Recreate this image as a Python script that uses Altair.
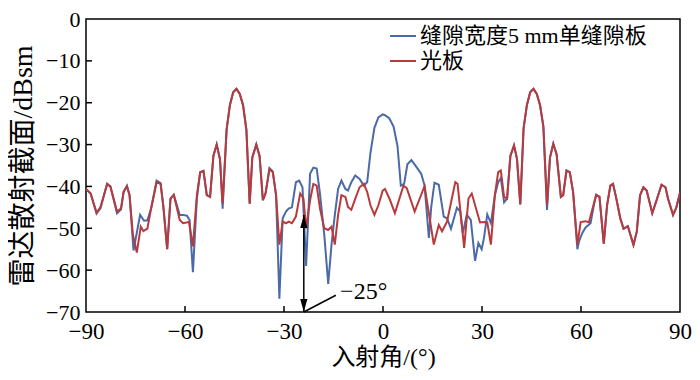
import altair as alt
import pandas as pd

# ---- data ----
series_names = ["缝隙宽度5 mm单缝隙板", "光板"]
series_colors = ["#4a6aa8", "#b83a3c"]

red_angle = [-90, -88.6, -86.8, -85.6, -83.6, -82.6, -80.6, -79.4, -78.6, -77.6, -76.8, -75.8, -74.6,
             -73.4, -72.6, -71.4, -70.1, -68.6, -67.4, -66.6, -65.4, -64.4, -63.4, -61.6, -60.6, -58.8,
             -57.6, -56.4, -55.4, -54.4, -53.4, -52.4, -51.4, -50.4, -49.4, -48.6, -47.4, -46.4, -45.4,
             -44.4, -43.4, -42.4, -41.4, -40.4, -39.6, -38.4, -37.4, -36.4, -35.6, -34.4, -33.4, -32.4,
             -31.4, -30.4, -29.4, -28.6, -27.6, -26.4, -25.1, -24.1, -23.3, -22.1, -21.1, -20.1, -19.1,
             -17.8, -16.6, -15.6, -14.6, -13.6, -12.6, -11.4, -10.6, -9.6, -8.4, -7.1, -5.8, -4.8, -3.8,
             -2.6, -1.4, -0.1, 0.6, 2.0, 3.6, 6.2, 7.2, 9.6, 12.6, 15.4, 16.9, 17.9, 19.4, 21.9, 22.6,
             24.6, 25.9, 26.9, 29.4, 30.6, 31.6, 32.7, 33.9, 34.9, 35.7, 36.7, 37.6, 38.6, 39.7, 40.6,
             41.6, 42.6, 43.6, 44.6, 45.6, 46.6, 47.6, 48.6, 49.7, 50.6, 51.6, 52.6, 53.9, 54.6, 55.6,
             56.6, 57.6, 58.9, 59.9, 61.4, 62.4, 63.4, 64.6, 65.6, 66.9, 67.9, 68.9, 69.7, 70.6, 71.9,
             72.9, 74.2, 75.9, 76.9, 77.9, 78.9, 79.9, 81.6, 82.9, 84.4, 85.6, 86.4, 87.9, 88.9, 90]
red_db = [-40.6, -41.7, -46.3, -44.9, -39.5, -40.0, -46.0, -45.3, -41.3, -40.0, -42.1, -51.5, -55.8,
          -49.6, -50.7, -50.1, -44.5, -39.0, -39.4, -44.5, -55.0, -42.9, -42.0, -48.0, -48.8, -48.5,
          -54.3, -42.1, -36.6, -36.3, -42.1, -42.5, -32.7, -30.0, -33.5, -44.1, -26.5, -20.6, -17.5,
          -16.7, -17.9, -20.6, -26.5, -44.1, -33.1, -30.0, -32.7, -43.3, -41.7, -35.9, -36.6, -42.1,
          -53.9, -48.4, -48.8, -48.4, -48.8, -47.2, -41.7, -42.9, -50.0, -43.3, -39.4, -39.8, -45.3,
          -50.0, -50.4, -49.6, -53.9, -46.8, -42.1, -42.5, -44.9, -45.6, -42.9, -40.2, -39.4, -41.3,
          -44.5, -46.8, -44.5, -41.0, -40.6, -43.0, -46.4, -39.8, -40.4, -46.0, -39.9, -53.9, -49.2,
          -50.7, -48.4, -39.0, -39.4, -54.7, -42.9, -41.7, -48.6, -48.5, -48.6, -53.9, -42.1, -36.6,
          -36.2, -42.5, -42.9, -32.7, -30.2, -33.4, -44.3, -26.1, -20.6, -17.5, -16.7, -17.9, -20.6,
          -25.7, -44.5, -33.1, -29.8, -32.3, -42.5, -42.1, -36.2, -36.6, -41.3, -53.9, -48.5, -48.3,
          -48.6, -45.6, -42.0, -42.5, -53.7, -44.5, -39.8, -39.4, -42.5, -47.6, -50.1, -49.5, -54.0,
          -50.8, -42.1, -40.2, -41.0, -46.4, -43.3, -39.6, -40.2, -43.0, -46.8, -45.0, -41.5]

blue_angle = [-90, -88.6, -86.8, -85.6, -83.6, -82.6, -80.6, -79.4, -78.6, -77.6, -76.8, -75.6, -73.6,
              -72.4, -71.4, -70.1, -68.6, -67.4, -66.6, -65.4, -64.4, -63.4, -61.6, -60.6, -59.4, -58.6,
              -57.6, -56.4, -55.4, -54.4, -53.4, -52.4, -51.4, -50.4, -49.4, -48.6, -47.4, -46.4, -45.4,
              -44.4, -43.4, -42.4, -41.4, -40.4, -39.6, -38.4, -37.4, -36.4, -35.6, -34.4, -33.4, -32.4,
              -31.4, -30.4, -29.4, -28.6, -27.6, -26.4, -25.4, -24.4, -23.3, -22.1, -21.1, -20.1, -19.1,
              -17.8, -16.6, -15.6, -14.6, -13.6, -12.6, -11.4, -10.6, -9.6, -8.4, -7.1, -5.8, -4.8, -3.8,
              -2.6, -1.4, -0.1, 0.6, 1.9, 3.2, 4.4, 5.4, 6.4, 7.4, 8.6, 9.9, 11.6, 12.6, 13.9, 14.6,
              15.6, 16.9, 18.4, 19.4, 20.6, 22.4, 23.4, 24.2, 25.4, 26.6, 27.9, 28.9, 29.9, 30.6, 31.6,
              32.7, 33.9, 34.9, 35.7, 36.7, 37.6, 38.6, 39.7, 40.6, 41.6, 42.6, 43.6, 44.6, 45.6, 46.6,
              47.6, 48.6, 49.7, 50.6, 51.6, 52.6, 53.9, 54.6, 55.6, 56.6, 57.6, 58.9, 59.4, 60.4, 61.4,
              62.9, 63.9, 64.6, 65.6, 66.9, 67.9, 68.9, 69.7, 70.6, 71.9, 72.9, 74.2, 75.9, 76.9, 77.9,
              78.9, 79.9, 81.6, 82.9, 84.4, 85.6, 86.4, 87.9, 88.9, 90]
blue_db = [-40.6, -41.7, -46.5, -45.2, -39.3, -40.0, -46.4, -45.5, -41.3, -39.8, -42.1, -55.3, -46.8,
           -48.2, -48.1, -44.8, -38.6, -39.2, -44.5, -55.0, -42.9, -42.0, -46.8, -46.8, -47.0, -48.1,
           -60.5, -42.9, -36.6, -36.3, -42.1, -42.5, -32.7, -30.0, -33.5, -45.3, -26.5, -20.6, -17.5,
           -16.7, -17.9, -20.6, -26.5, -44.1, -33.1, -30.0, -32.7, -43.3, -41.7, -35.6, -36.4, -42.1,
           -66.8, -47.6, -46.0, -45.3, -45.0, -39.0, -38.6, -40.2, -59.0, -37.0, -35.5, -35.7, -41.7,
           -51.5, -63.3, -53.9, -46.8, -40.6, -38.6, -40.6, -41.0, -39.0, -37.4, -38.2, -39.8, -39.0,
           -32.0, -26.0, -23.5, -22.8, -23.0, -23.7, -25.7, -30.4, -39.8, -39.4, -34.7, -33.7, -35.1,
           -37.0, -39.8, -52.3, -45.0, -39.1, -39.6, -47.2, -47.6, -50.1, -45.1, -46.0, -51.1, -46.8,
           -48.0, -57.8, -53.5, -55.0, -52.3, -46.7, -48.8, -42.1, -39.0, -38.0, -43.8, -42.9, -32.7,
           -30.2, -33.4, -44.3, -26.1, -20.6, -17.5, -16.7, -17.9, -20.6, -25.7, -45.6, -33.1, -29.8,
           -32.3, -42.5, -42.1, -36.2, -36.6, -41.3, -55.0, -53.1, -51.1, -49.8, -48.8, -44.5, -42.0,
           -42.5, -53.7, -44.5, -39.8, -39.4, -42.5, -47.6, -50.1, -49.5, -54.0, -50.8, -42.1, -40.2,
           -41.0, -46.4, -43.3, -39.6, -40.2, -43.0, -46.8, -45.0, -41.5]

x_ticks = [-90, -60, -30, 0, 30, 60, 90]
y_ticks = [-70, -60, -50, -40, -30, -20, -10, 0]
inner_x_ticks = [-60, -30, 0, 30, 60]
inner_y_ticks = [-60, -50, -40, -30, -20, -10]

arrow_angle = -24.0
arrow_top = -46.8
arrow_bottom = -70.0
leader_end_angle = -14.3
leader_end_db = -66.0
label_angle = -13.0
label_db = -65.2
label_text = "−25°"

FONT = '"Liberation Serif", "Noto Sans CJK SC", serif'
W, H = 594, 293

# ---- tables ----
blue_df = pd.DataFrame({"angle": blue_angle, "rcs": blue_db, "series": series_names[0]})
red_df = pd.DataFrame({"angle": red_angle, "rcs": red_db, "series": series_names[1]})

xscale = alt.Scale(domain=[-90, 90], nice=False, zero=False)
yscale = alt.Scale(domain=[-70, 0], nice=False, zero=False)
cscale = alt.Scale(domain=series_names, range=series_colors)

xaxis = alt.Axis(values=x_ticks, tickSize=0, domain=False, grid=False, labelPadding=8,
                 labelFlush=False, labelOverlap=False,
                 labelFont=FONT, labelFontSize=23, labelColor="black",
                 title="入射角/(°)", titleX=W / 2, titleY=45, titleBaseline="middle",
                 titleAlign="center", titleFont=FONT, titleFontSize=24, titleColor="black",
                 titleFontWeight="normal")
yaxis = alt.Axis(values=y_ticks, tickSize=0, domain=False, grid=False, labelPadding=6,
                 labelFlush=False, labelOverlap=False,
                 labelFont=FONT, labelFontSize=22, labelColor="black",
                 title="雷达散射截面/dBsm", titleX=-63, titleY=H / 2, titleAngle=270,
                 titleBaseline="middle", titleAlign="center", titleFont=FONT, titleFontSize=28,
                 titleColor="black", titleFontWeight="normal")

legend = alt.Legend(title=None, orient="none", legendX=303, legendY=3, symbolType="stroke",
                    symbolSize=676, symbolStrokeWidth=2, labelFontSize=22, labelFont=FONT,
                    labelColor="black", labelOffset=3, rowPadding=0, labelLimit=400)

base_x = alt.X("angle:Q", scale=xscale, axis=xaxis)
base_y = alt.Y("rcs:Q", scale=yscale, axis=yaxis)
color = alt.Color("series:N", scale=cscale, legend=legend)

blue_line = alt.Chart(blue_df).mark_line(strokeWidth=2, clip=True).encode(
    x=base_x, y=base_y, color=color)
red_line = alt.Chart(red_df).mark_line(strokeWidth=2, clip=True).encode(
    x=base_x, y=base_y, color=color)

xt = alt.Chart(pd.DataFrame({"t": inner_x_ticks})).mark_rule(color="black", strokeWidth=1.5).encode(
    x=alt.X("t:Q", scale=xscale), y=alt.value(H), y2=alt.value(H - 6))
yt = alt.Chart(pd.DataFrame({"t": inner_y_ticks})).mark_rule(color="black", strokeWidth=1.5).encode(
    y=alt.Y("t:Q", scale=yscale), x=alt.value(0), x2=alt.value(6))

ann = pd.DataFrame({"a": [arrow_angle], "top": [arrow_top], "bot": [arrow_bottom],
                    "la": [leader_end_angle], "ld": [leader_end_db],
                    "ta": [label_angle], "td": [label_db], "txt": [label_text]})

shaft = alt.Chart(ann).mark_rule(color="black", strokeWidth=1.5).encode(
    x=alt.X("a:Q", scale=xscale), y=alt.Y("top:Q", scale=yscale), y2="bot:Q")
head_up = alt.Chart(ann).mark_point(shape="M0,-1L0.55,1L-0.55,1Z", filled=True, color="black",
                                    opacity=1, size=169, yOffset=6.5).encode(
    x=alt.X("a:Q", scale=xscale), y=alt.Y("top:Q", scale=yscale))
head_down = alt.Chart(ann).mark_point(shape="M0,1L0.55,-1L-0.55,-1Z", filled=True, color="black",
                                      opacity=1, size=169, yOffset=-6.5).encode(
    x=alt.X("a:Q", scale=xscale), y=alt.Y("bot:Q", scale=yscale))
leader = alt.Chart(ann).mark_rule(color="black", strokeWidth=1.5).encode(
    x=alt.X("a:Q", scale=xscale), y=alt.Y("bot:Q", scale=yscale), x2="la:Q", y2="ld:Q")
label = alt.Chart(ann).mark_text(align="left", baseline="middle", fontSize=24, font=FONT,
                                 color="black").encode(
    x=alt.X("ta:Q", scale=xscale), y=alt.Y("td:Q", scale=yscale), text="txt:N")

chart = alt.layer(blue_line, red_line, xt, yt, shaft, head_up, head_down, leader, label).properties(
    width=W, height=H,
    background="white",
    autosize=alt.AutoSizeParams(type="none"),
    padding={"left": 78, "top": 11, "right": 12, "bottom": 60},
).configure_view(stroke="black", strokeWidth=1.5)

chart.save("out.html", embed_options={"renderer": "svg", "actions": False})
